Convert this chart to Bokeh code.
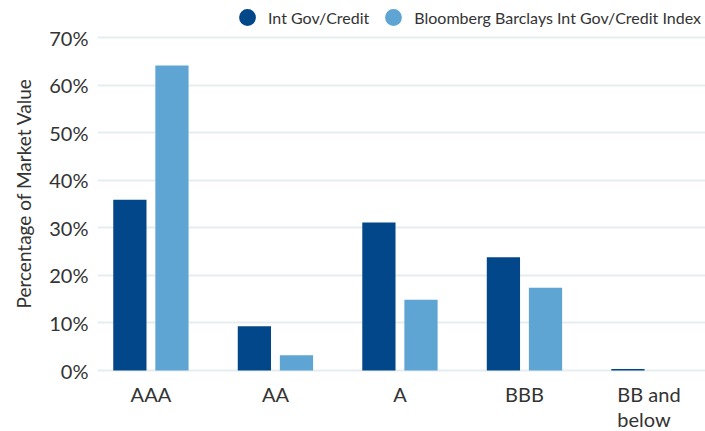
from bokeh.plotting import figure
from bokeh.models import (Range1d, FixedTicker, PrintfTickFormatter, Legend,
                          LegendItem, LabelSet, ColumnDataSource, Title)
from bokeh.transform import dodge
from bokeh.core.properties import value
from bokeh.embed import file_html
from bokeh.resources import INLINE

categories = ["AAA", "AA", "A", "BBB", "BB and below"]
tick_labels = ["AAA", "AA", "A", "BBB", "BB and\nbelow"]
fund = [35.9, 9.3, 31.1, 23.8, 0.3]
bench = [64.1, 3.2, 14.9, 17.4, 0.0]
y_ticks = [0, 10, 20, 30, 40, 50, 60, 70]
series_names = ["Int Gov/Credit", "Bloomberg Barclays Int Gov/Credit Index"]
y_title = "Percentage of Market Value"

DARK = "#02478a"
LIGHT = "#5ea5d4"
GRID = "#e6edf0"
TEXT = "#333333"
FONT = "Lato"

xs = list(range(len(categories)))
src = ColumnDataSource(dict(x=xs, fund=fund, bench=bench, lab=tick_labels))

p = figure(width=705, height=431, output_backend="svg", toolbar_location=None,
           x_range=Range1d(-0.429, 4.454), y_range=Range1d(-12.82, 77.78),
           x_axis_location=None,
           min_border_left=97, min_border_right=0, min_border_top=0,
           min_border_bottom=0)
p.outline_line_color = None
p.background_fill_color = "white"

p.vbar(x=dodge("x", -0.169, range=p.x_range), top="fund", width=0.267,
       source=src, fill_color=DARK, line_color=None)
p.vbar(x=dodge("x", 0.169, range=p.x_range), top="bench", width=0.267,
       source=src, fill_color=LIGHT, line_color=None)

# legend proxies (one non-drawn point each so the legend shows a marker)
nan = float("nan")
c1 = p.scatter(x=[nan], y=[nan], marker="circle", size=17,
               fill_color=DARK, line_color=None)
c2 = p.scatter(x=[nan], y=[nan], marker="circle", size=17,
               fill_color=LIGHT, line_color=None)

legend = Legend(items=[LegendItem(label=series_names[0], renderers=[c1]),
                       LegendItem(label=series_names[1], renderers=[c2])],
                orientation="horizontal", location=(129, 393),
                glyph_width=42, glyph_height=42, label_standoff=-8, spacing=3,
                padding=0, margin=0, background_fill_alpha=0,
                border_line_alpha=0, label_text_font=FONT,
                label_text_font_size="16px", label_text_color=TEXT)
p.add_layout(legend, "center")

p.yaxis.ticker = FixedTicker(ticks=y_ticks)
p.yaxis.formatter = PrintfTickFormatter(format="%d%%")
p.yaxis.axis_line_color = None
p.yaxis.major_tick_line_color = None
p.yaxis.minor_tick_line_color = None
p.yaxis.major_tick_out = 0
p.yaxis.major_label_standoff = 9
p.yaxis.major_label_text_font = FONT
p.yaxis.major_label_text_font_size = "20px"
p.yaxis.major_label_text_color = TEXT

ytitle = Title(text=y_title, align="left", offset=123, standoff=20,
               vertical_align="top",
               text_font=FONT, text_font_size="19px", text_font_style="normal",
               text_color=TEXT)
p.add_layout(ytitle, "left")

p.xgrid.grid_line_color = None
p.ygrid.ticker = FixedTicker(ticks=y_ticks)
p.ygrid.grid_line_color = GRID
p.ygrid.grid_line_width = 2

cat_labels = LabelSet(x="x", y=0, y_offset=-11, text="lab", source=src,
                      text_align="center", text_baseline="top",
                      text_line_height=1.05,
                      text_font=value(FONT), text_font_size="20px",
                      text_color=TEXT)
p.add_layout(cat_labels)

open("out.html", "w").write(file_html(p, INLINE))
